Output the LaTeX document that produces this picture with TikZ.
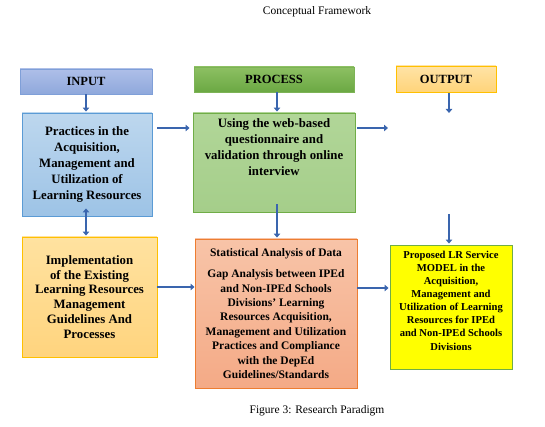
\documentclass[tikz,border=0pt]{standalone}
\usepackage{fontspec}
\setmainfont{Liberation Serif}
\usetikzlibrary{arrows.meta}
\definecolor{arr}{HTML}{3A65AE}
\begin{document}
\begin{tikzpicture}[x=1pt,y=-1pt,
  box/.style={draw, line width=0.9pt, inner sep=0pt, align=center,
    font=\bfseries\fontsize{12.8}{16}\selectfont},
  head/.style={box, font=\bfseries\fontsize{12.5}{15}\selectfont},
  conn/.style={arr, line width=2.4pt, -{Triangle[length=4pt,width=6.5pt]}},
  conn2/.style={arr, line width=2.4pt, {Triangle[length=4pt,width=6.5pt]}-{Triangle[length=4pt,width=6.5pt]}}]
\useasboundingbox (0,0) rectangle (545,427);
\node[font=\fontsize{11.5}{13}\selectfont] (title) at (317,12) {Conceptual Framework};
\node[font=\fontsize{11.5}{13}\selectfont] (caption) at (317,411) {Figure 3: Research Paradigm};
% headers
\node[head, minimum width=132pt, minimum height=25pt, top color={rgb,255:red,174;green,191;blue,232}, bottom color={rgb,255:red,143;green,168;blue,220}, draw={rgb,255:red,127;green,159;blue,216}] (input) at (86,81.5) {INPUT};
\node[head, minimum width=160pt, minimum height=25pt, top color={rgb,255:red,141;green,192;blue,99}, bottom color={rgb,255:red,107;green,168;blue,67}, draw={rgb,255:red,125;green,179;blue,86}] (process) at (274,79.5) {PROCESS};
\node[head, minimum width=100pt, minimum height=26pt, top color={rgb,255:red,255;green,227;blue,166}, bottom color={rgb,255:red,255;green,212;blue,122}, draw={rgb,255:red,255;green,192;blue,0}] (output) at (446,79) {OUTPUT};
% main boxes
\node[box, minimum width=130pt, minimum height=103pt, top color={rgb,255:red,189;green,215;blue,238}, bottom color={rgb,255:red,157;green,195;blue,230}, draw={rgb,255:red,91;green,155;blue,213}] (practices) at (87,164.5) {Practices in the\\Acquisition,\\Management and\\Utilization of\\Learning Resources};
\node[box, top color={rgb,255:red,177;green,214;blue,152}, bottom color={rgb,255:red,165;green,206;blue,138}, draw={rgb,255:red,112;green,173;blue,71}] (using) at (274,162.5) {\parbox[c][99pt][t]{162pt}{\centering\vspace*{6pt}Using the web-based\\questionnaire and\\validation through online\\interview}};
\node[box, minimum width=135pt, minimum height=120pt, top color={rgb,255:red,255;green,226;blue,160}, bottom color={rgb,255:red,255;green,212;blue,126}, draw={rgb,255:red,255;green,192;blue,0}, font=\bfseries\fontsize{12.8}{14.8}\selectfont] (impl) at (89.5,297) {Implementation\\of the Existing\\Learning Resources\\Management\\Guidelines And\\Processes};
\node[box, minimum width=162pt, minimum height=149pt, top color={rgb,255:red,248;green,196;blue,168}, bottom color={rgb,255:red,244;green,170;blue,134}, draw={rgb,255:red,237;green,125;blue,49}, font=\bfseries\fontsize{11.5}{14.4}\selectfont] (stat) at (276,313.5) {Statistical Analysis of Data\\[7pt]Gap Analysis between IPEd\\and Non-IPEd Schools\\Divisions’ Learning\\Resources Acquisition,\\Management and Utilization\\Practices and Compliance\\with the DepEd\\Guidelines/Standards};
\node[box, fill={rgb,255:red,255;green,255;blue,0}, draw={rgb,255:red,112;green,173;blue,71}, font=\bfseries\fontsize{10.6}{13.1}\selectfont] (model) at (451,307) {\parbox[c][124pt][t]{122pt}{\centering\vspace*{6pt}Proposed LR Service\\MODEL in the\\Acquisition,\\Management and\\Utilization of Learning\\Resources for IPEd\\and Non-IPEd Schools\\Divisions}};
% connectors
\coordinate (outfree) at (388,128);
\coordinate (outdown) at (449,113);
\coordinate (outup) at (449,214);
\draw[conn, shorten >=1pt] (input.south) -- (input.south |- practices.north);
\draw[conn, shorten >=1pt] (process.south -| 277,0) -- (using.north -| 277,0);
\draw[conn, shorten <=1pt] (output.south -| outdown) -- (outdown);
\draw[conn2] ([yshift=8pt]practices.south -| input.south) -- ([yshift=1pt]impl.north -| input.south);
\draw[conn, shorten <=5pt, shorten >=3pt] (practices.east |- 0,128) -- (using.west |- 0,128);
\draw[conn, shorten <=2pt] (using.east |- 0,128) -- (outfree);
\draw[conn, shorten >=1pt] ([yshift=8pt]using.south -| 277,0) -- (stat.north -| 277,0);
\draw[conn, shorten >=1pt] (outup) -- (model.north -| outup);
\draw[conn] (impl.east |- 0,287) -- (stat.west |- 0,287);
\draw[conn, shorten >=1pt] (stat.east |- 0,288) -- (model.west |- 0,288);
\end{tikzpicture}
\end{document}
